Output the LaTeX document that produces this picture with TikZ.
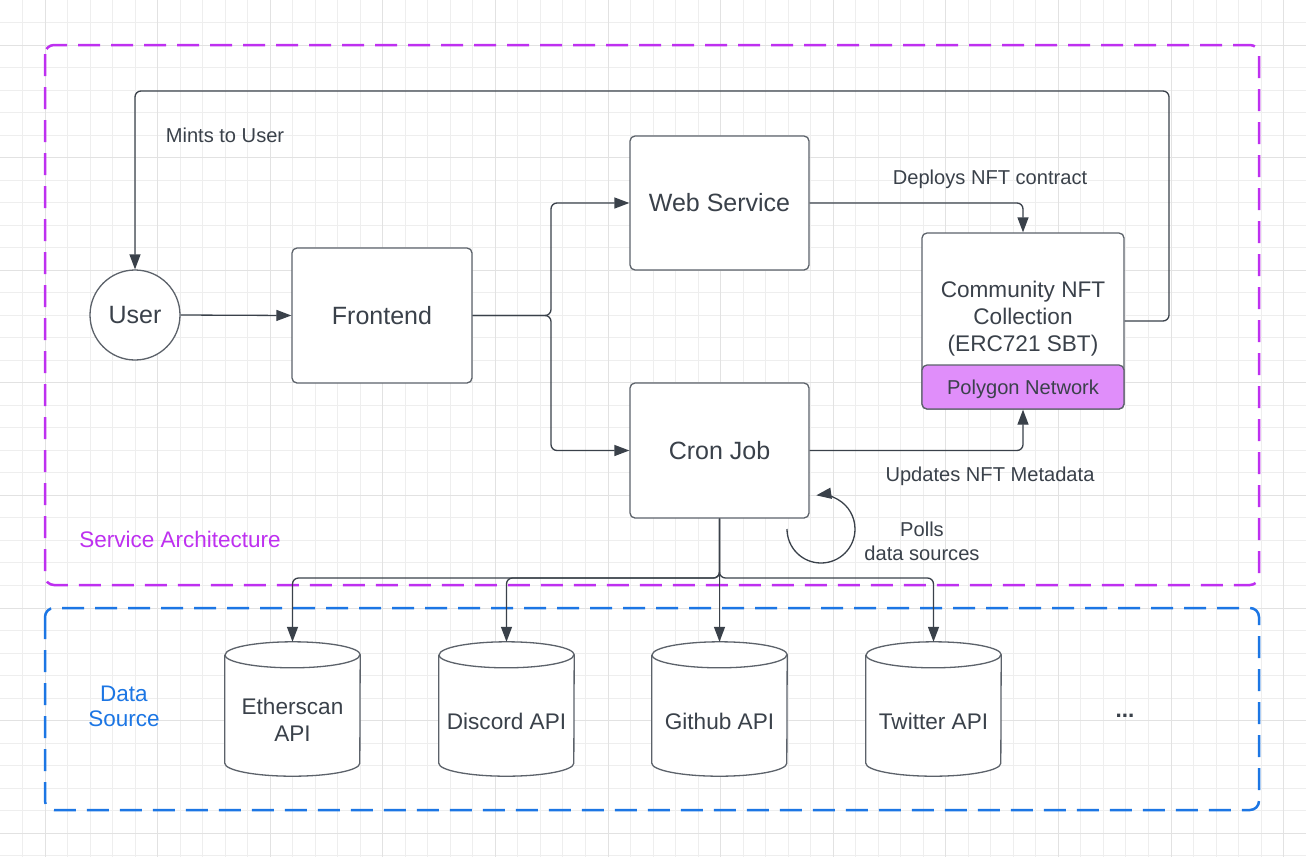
\documentclass[tikz,border=0pt]{standalone}
\usepackage{fontspec}
\setmainfont{Liberation Sans}
\usetikzlibrary{arrows.meta,calc}
\definecolor{inkc}{RGB}{58,65,74}
\definecolor{boxc}{RGB}{92,98,106}
\definecolor{magc}{RGB}{190,48,240}
\definecolor{bluec}{RGB}{28,118,228}
\definecolor{polyc}{RGB}{224,142,250}
\definecolor{gridminor}{RGB}{238,238,238}
\definecolor{gridmajor}{RGB}{226,226,226}
\newcommand\bigtxt{\fontsize{25}{29}\selectfont}
\newcommand\midtxt{\fontsize{22.6}{27}\selectfont}
\newcommand\smltxt{\fontsize{20.1}{24}\selectfont}
\newcommand\frmtxt{\fontsize{22.5}{26}\selectfont}
\begin{document}
\begin{tikzpicture}[x=1pt,y=-1pt,
  box/.style={draw=boxc, line width=1.3pt, rounded corners=5pt, fill=white, text=inkc, font=\bigtxt, inner sep=0pt, align=center},
  conn/.style={draw=inkc, line width=1.3pt, -{Triangle[length=15pt,width=11pt]}, rounded corners=6pt},
  lbl/.style={text=inkc, font=\smltxt, inner sep=0pt, align=center},
  cylbox/.style={inner sep=0pt, minimum width=135pt, minimum height=134pt},
  cyltext/.style={text=inkc, font=\midtxt, inner sep=0pt, align=center},
  frame/.style={line width=2.5pt, dash pattern=on 22pt off 11pt, rounded corners=9pt}
]
\useasboundingbox (0,0) rectangle (1306,857);
\fill[white] (0,0) rectangle (1306,857);
% grid
\foreach \k in {-2,...,56} {\draw[gridminor, line width=1pt] ({45+22.52*\k},0) -- ({45+22.52*\k},857);}
\foreach \k in {-2,...,36} {\draw[gridminor, line width=1pt] (0,{45+22.52*\k}) -- (1306,{45+22.52*\k});}
\foreach \k in {0,...,11} {\draw[gridmajor, line width=1pt] ({45+112.6*\k},0) -- ({45+112.6*\k},857);}
\foreach \k in {0,...,7} {\draw[gridmajor, line width=1pt] (0,{45+112.6*\k}) -- (1306,{45+112.6*\k});}

% frames
\draw[frame, magc] (45,45) rectangle (1259,585);
\draw[frame, bluec] (45,608) rectangle (1259,810);
\node[text=magc, font=\frmtxt, inner sep=0pt] (svc) at (180,539) {Service Architecture};
\node[text=bluec, font=\frmtxt, inner sep=0pt, align=center] (dsrc) at (124,706) {Data\\[-1pt]Source};

% main nodes
\node[box, circle, minimum size=90pt] (user) at (135,315) {User};
\node[box, minimum width=180pt, minimum height=135pt] (front) at (382,315.5) {Frontend};
\node[box, minimum width=179pt, minimum height=134pt] (web) at (719.5,203) {Web Service};
\node[box, minimum width=179pt, minimum height=135pt] (cron) at (719.5,450.5) {Cron Job};
\node[box, minimum width=202pt, minimum height=176pt] (nft) at (1023,321) {};
\node[box, fill=polyc, minimum width=202pt, minimum height=44pt] (poly) at (1023,387) {};
\node[lbl] (polytext) at (1023,389.5) {Polygon Network};
\node[text=inkc, font=\midtxt, inner sep=0pt, align=center] (nfttext) at (1023,319) {Community NFT\\Collection\\(ERC721 SBT)};

% cylinders
\foreach \nm/\cx in {eth/292.5, disc/506.5, git/719.5, twit/933.5} {
  \node[cylbox] (\nm) at (\cx,709) {};
  \draw[draw=boxc, line width=1.3pt, fill=white]
    ($(\nm.north west)+(0,13)$) -- ($(\nm.south west)+(0,-13)$)
    arc[start angle=180, end angle=360, x radius=67.5pt, y radius=13pt]
    -- ($(\nm.north east)+(0,13)$)
    arc[start angle=0, end angle=180, x radius=67.5pt, y radius=13pt];
  \draw[draw=boxc, line width=1.3pt] ($(\nm.north west)+(0,13)$)
    arc[start angle=180, end angle=360, x radius=67.5pt, y radius=13pt];
}
\node[cyltext] at ($(eth.center)+(0,11)$) {Etherscan\\API};
\node[cyltext] at ($(disc.center)+(0,12)$) {Discord API};
\node[cyltext] at ($(git.center)+(0,12)$) {Github API};
\node[cyltext] at ($(twit.center)+(0,12)$) {Twitter API};
\node[text=inkc, font=\frmtxt, inner sep=0pt] (more) at (1125,716) {\textbf{...}};

% coordinates
\coordinate (split) at (551,315.5);
\coordinate (mintc) at (1169,91);
\coordinate (bus) at (0,578);
\coordinate (loopstart) at (787,529);

% connectors
\draw[conn] (user.east) -- (front.west);
\draw[conn] (front.east) -- (split) |- (web.west);
\draw[conn] (front.east) -- (split) |- (cron.west);
\draw[conn] (web.east) -| (nft.north);
\draw[conn] (cron.east) -| (poly.south);
\draw[conn] (nft.east) -| (mintc) -| (user.north);
\foreach \nm in {eth, disc, twit} {
  \draw[conn] (cron.south) -- (cron.south |- bus) -| (\nm.north);
}
\draw[conn] (cron.south) -- (git.north);
\draw[conn, rounded corners=0pt] (loopstart) arc[start angle=180, end angle=458, radius=34pt];

% labels
\node[lbl] (lmint) at (225,135) {Mints to User};
\node[lbl] (ldeploy) at (990,179) {Deploys NFT contract};
\node[lbl] (lupdate) at (990,476) {Updates NFT Metadata};
\node[lbl] (lpoll) at (922,541) {Polls\\data sources};
\end{tikzpicture}
\end{document}
